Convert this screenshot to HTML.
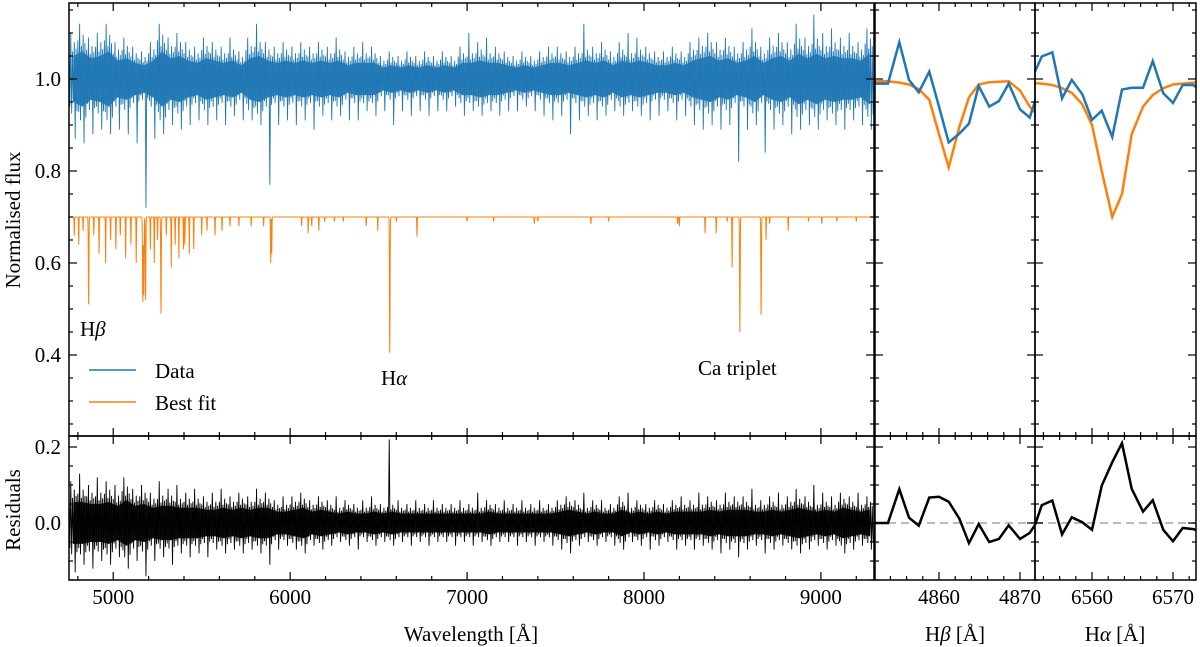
<!DOCTYPE html>
<html><head><meta charset="utf-8"><style>
html,body{margin:0;padding:0;background:#fff;}
svg{display:block;}
text{font-family:"Liberation Serif",serif;}
</style></head><body>
<svg id="chart" width="1200" height="647" viewBox="0 0 1200 647" font-family="Liberation Serif, serif" xmlns="http://www.w3.org/2000/svg">
<defs>
<clipPath id="cMain"><rect x="69" y="3" width="805" height="433"/></clipPath>
<clipPath id="cRes"><rect x="69" y="436" width="805" height="144"/></clipPath>
<clipPath id="cHb"><rect x="875" y="3" width="160" height="433"/></clipPath>
<clipPath id="cHbR"><rect x="875" y="436" width="160" height="144"/></clipPath>
<clipPath id="cHa"><rect x="1035" y="3" width="161" height="433"/></clipPath>
<clipPath id="cHaR"><rect x="1035" y="436" width="161" height="144"/></clipPath>
</defs>
<g id="marks"></g>
<g id="axes"></g>
<text x="20" y="220" font-size="21" text-anchor="middle" transform="rotate(-90 20 220)">Normalised flux</text>
<text x="20" y="510" font-size="21" text-anchor="middle" transform="rotate(-90 20 510)">Residuals</text>
<text x="471" y="641" font-size="21" text-anchor="middle">Wavelength [Å]</text>
<text x="955" y="641" font-size="21" text-anchor="middle">H<tspan font-style="italic">β</tspan> [Å]</text>
<text x="1115" y="641" font-size="21" text-anchor="middle">H<tspan font-style="italic">α</tspan> [Å]</text>
<text x="80" y="336" font-size="21">H<tspan font-style="italic">β</tspan></text>
<text x="381" y="385" font-size="21">H<tspan font-style="italic">α</tspan></text>
<text x="698" y="375" font-size="21">Ca triplet</text>
<g>
<line x1="89" y1="370" x2="136" y2="370" stroke="#1f77b4" stroke-width="1.5"/>
<text x="155" y="378" font-size="21">Data</text>
<line x1="89" y1="402" x2="136" y2="402" stroke="#ff7f0e" stroke-width="1.5"/>
<text x="155" y="410" font-size="21">Best fit</text>
</g>
</svg>
<script>
// ---------- data ----------
const binStart = 4750, binWidth = 50;
const dataHi = [1.10,1.12,1.09,1.10,1.12,1.08,1.09,1.07,1.06,1.08,1.12,1.09,1.10,1.08,1.07,1.09,1.08,1.07,1.09,1.06,1.09,1.12,1.08,1.07,1.08,1.07,1.08,1.07,1.08,1.07,1.09,1.06,1.07,1.08,1.07,1.05,1.06,1.05,1.06,1.05,1.06,1.05,1.06,1.05,1.07,1.10,1.08,1.09,1.07,1.06,1.05,1.06,1.05,1.06,1.07,1.07,1.06,1.07,1.12,1.07,1.08,1.06,1.08,1.10,1.09,1.07,1.06,1.06,1.07,1.06,1.08,1.09,1.10,1.08,1.09,1.07,1.08,1.11,1.07,1.09,1.10,1.08,1.12,1.09,1.14,1.10,1.11,1.09,1.10,1.08,1.11];
const dataLo = [0.87,0.86,0.88,0.89,0.88,0.89,0.88,0.86,0.72,0.87,0.88,0.90,0.89,0.90,0.91,0.90,0.91,0.90,0.92,0.91,0.91,0.90,0.77,0.90,0.91,0.90,0.91,0.89,0.92,0.91,0.92,0.91,0.91,0.93,0.92,0.93,0.90,0.93,0.92,0.93,0.92,0.93,0.93,0.94,0.92,0.93,0.92,0.93,0.92,0.93,0.93,0.94,0.93,0.92,0.91,0.92,0.88,0.91,0.92,0.91,0.92,0.93,0.92,0.93,0.92,0.91,0.92,0.93,0.91,0.92,0.90,0.89,0.90,0.89,0.90,0.82,0.89,0.90,0.84,0.89,0.90,0.88,0.89,0.90,0.89,0.91,0.90,0.89,0.91,0.90,0.89];
const resHi = [0.11,0.13,0.10,0.12,0.11,0.10,0.12,0.09,0.10,0.08,0.11,0.09,0.10,0.08,0.09,0.07,0.08,0.09,0.07,0.08,0.07,0.09,0.08,0.06,0.07,0.07,0.08,0.06,0.07,0.06,0.07,0.06,0.05,0.06,0.07,0.05,0.22,0.06,0.05,0.06,0.05,0.06,0.05,0.05,0.06,0.05,0.08,0.06,0.05,0.06,0.05,0.06,0.05,0.06,0.05,0.06,0.07,0.06,0.08,0.06,0.06,0.05,0.07,0.08,0.06,0.05,0.06,0.05,0.06,0.07,0.06,0.08,0.07,0.06,0.08,0.07,0.07,0.09,0.06,0.07,0.08,0.07,0.09,0.07,0.10,0.08,0.07,0.08,0.07,0.08,0.07];
const resLo = [-0.13,-0.11,-0.12,-0.10,-0.11,-0.09,-0.12,-0.10,-0.14,-0.10,-0.09,-0.11,-0.08,-0.09,-0.08,-0.09,-0.07,-0.08,-0.07,-0.08,-0.07,-0.08,-0.11,-0.07,-0.06,-0.07,-0.08,-0.06,-0.07,-0.06,-0.05,-0.06,-0.07,-0.05,-0.06,-0.05,-0.06,-0.05,-0.06,-0.05,-0.06,-0.05,-0.05,-0.06,-0.05,-0.06,-0.05,-0.06,-0.05,-0.05,-0.06,-0.05,-0.06,-0.05,-0.06,-0.07,-0.08,-0.06,-0.05,-0.06,-0.05,-0.06,-0.07,-0.05,-0.06,-0.07,-0.06,-0.05,-0.07,-0.06,-0.07,-0.06,-0.07,-0.08,-0.07,-0.09,-0.07,-0.06,-0.08,-0.07,-0.06,-0.07,-0.08,-0.07,-0.06,-0.07,-0.06,-0.08,-0.07,-0.06,-0.07];
const modelContinuum = 0.70;
const lineCenters = [4780,4805,4830,4861,4890,4920,4957,4985,5015,5040,5070,5100,5130,5167,5173,5183,5210,5232,5250,5270,5300,5328,5350,5371,5397,5405,5430,5455,5500,5530,5575,5615,5660,5710,5780,5850,5890,5896,6065,6102,6122,6162,6195,6250,6300,6430,6495,6563,6600,6717,7000,7150,7380,7400,7700,7800,8190,8200,8345,8408,8470,8498,8542,8662,8690,8710,8815,8930,9005,9090,9200];
const lineMins = [0.66,0.64,0.67,0.51,0.66,0.62,0.60,0.65,0.63,0.66,0.61,0.64,0.60,0.515,0.53,0.52,0.63,0.60,0.65,0.49,0.66,0.59,0.64,0.61,0.63,0.64,0.62,0.63,0.66,0.67,0.66,0.67,0.68,0.68,0.68,0.68,0.60,0.62,0.68,0.665,0.68,0.67,0.69,0.69,0.69,0.68,0.67,0.405,0.69,0.657,0.69,0.69,0.685,0.69,0.685,0.69,0.685,0.68,0.665,0.665,0.69,0.59,0.45,0.487,0.65,0.685,0.67,0.69,0.685,0.69,0.69];
const hbWave = [4852.1,4853.7,4855.1,4856.3,4857.5,4858.8,4860.0,4861.2,4862.5,4863.7,4864.9,4866.2,4867.4,4868.6,4870.0,4871.2,4872.0];
const hbData = [0.99,0.99,1.08,0.998,0.971,1.016,0.94,0.862,0.881,0.903,0.985,0.94,0.952,0.99,0.934,0.916,0.96];
const hbModel = [0.995,0.995,0.992,0.988,0.978,0.955,0.88,0.808,0.895,0.96,0.988,0.993,0.994,0.995,0.975,0.94,0.925];
const hbRes = [0,0,0.089,0.014,-0.007,0.067,0.069,0.056,0.012,-0.053,-0.003,-0.05,-0.042,-0.006,-0.042,-0.026,0];
const haWave = [6552.96,6553.8,6555.1,6556.3,6557.5,6558.8,6560.0,6561.2,6562.5,6563.7,6564.9,6566.3,6567.5,6568.8,6570.0,6571.2,6572.5,6573.0];
const haData = [1.016,1.049,1.058,0.958,0.998,0.967,0.911,0.931,0.874,0.977,0.981,0.981,1.039,0.969,0.948,0.987,0.987,0.98];
const haModel = [0.991,0.99,0.987,0.98,0.97,0.945,0.9,0.8,0.7,0.75,0.88,0.94,0.965,0.98,0.988,0.99,0.992,0.993];
const haRes = [-0.005,0.047,0.059,-0.03,0.015,0.002,-0.018,0.098,0.16,0.21,0.09,0.03,0.06,-0.018,-0.048,-0.013,-0.016,-0.02];
const mainXTicks = [5000,6000,7000,8000,9000];
const hbXTicks = [4860,4870];
const haXTicks = [6560,6570];
const fluxYTicks = [0.4,0.6,0.8,1.0];
const resYTicks = [0.0,0.2];

// ---------- panels ----------
const NS = "http://www.w3.org/2000/svg";
const P = {
  main:{x0:69,x1:874,y0:3,y1:436,xmin:4750,xmax:9300,ymin:0.2239,ymax:1.1652},
  res:{x0:69,x1:874,y0:436,y1:580,xmin:4750,xmax:9300,ymin:-0.15,ymax:0.229},
  hb:{x0:875,x1:1035,y0:3,y1:436,xmin:4852.1,xmax:4871.85,ymin:0.2239,ymax:1.1652},
  hbr:{x0:875,x1:1035,y0:436,y1:580,xmin:4852.1,xmax:4871.85,ymin:-0.15,ymax:0.229},
  ha:{x0:1035,x1:1196,y0:3,y1:436,xmin:6552.96,xmax:6572.84,ymin:0.2239,ymax:1.1652},
  har:{x0:1035,x1:1196,y0:436,y1:580,xmin:6552.96,xmax:6572.84,ymin:-0.15,ymax:0.229}
};
function sx(p,v){return p.x0+(v-p.xmin)/(p.xmax-p.xmin)*(p.x1-p.x0);}
function sy(p,v){return p.y1-(v-p.ymin)/(p.ymax-p.ymin)*(p.y1-p.y0);}
const marks=document.getElementById('marks'), axes=document.getElementById('axes');
function mk(tag,attrs,parent){const e=document.createElementNS(NS,tag);for(const k in attrs)e.setAttribute(k,attrs[k]);parent.appendChild(e);return e;}
function path(p,xs,ys,stroke,w,clip,name){
  let d='';for(let i=0;i<xs.length;i++){d+=(i?'L':'M')+sx(p,xs[i]).toFixed(2)+' '+sy(p,ys[i]).toFixed(2);}
  const e=mk('path',{d:d,fill:'none',stroke:stroke,'stroke-width':w,'stroke-linejoin':'miter','clip-path':'url(#'+clip+')'},marks);
  
  
  return e;
}
// drawing style for a noisy series: spikes reach the bin envelope once per side per bin
const spikeStyle = [0.7,-0.6,1.0,-0.75,0.6,-0.5,0.8,-1.0,0.65,-0.7];
function noisy(p,hi,lo,center,color,clip,name){
  const n=Math.min(hi.length,lo.length);
  const xs=[],ys=[],cx=[],cyh=[],cyl=[];
  for(let i=0;i<n;i++){
    const w=binStart+i*binWidth;
    const up=hi[i]-center, dn=center-lo[i];
    const base=Math.min(up,dn);
    for(let k=0;k<spikeStyle.length;k++){
      const f=spikeStyle[k];
      xs.push(w+k*binWidth/spikeStyle.length);
      let v;
      if(f===1.0) v=hi[i]; else if(f===-1.0) v=lo[i]; else v=center+f*base;
      ys.push(v);
    }
    cx.push(w+binWidth/2);cyh.push(center+base*0.5);cyl.push(center-base*0.5);
  }
  let d='';
  for(let i=0;i<cx.length;i++)d+=(i?'L':'M')+sx(p,cx[i]).toFixed(1)+' '+sy(p,cyh[i]).toFixed(1);
  for(let i=cx.length-1;i>=0;i--)d+='L'+sx(p,cx[i]).toFixed(1)+' '+sy(p,cyl[i]).toFixed(1);
  const band=mk('path',{d:d+'Z',fill:color,'fill-opacity':0.9,'clip-path':'url(#'+clip+')'},marks);
  
  
  path(p,xs,ys,color,0.9,clip,name);
}
noisy(P.main,dataHi,dataLo,1.0,'#1f77b4','cMain','data-spectrum');
noisy(P.res,resHi,resLo,0.0,'#000','cRes','residual-spectrum');
// model spectrum
{
  const mx=[],my=[];
  for(let w=4750;w<=9300;w+=1){
    let v=modelContinuum;
    for(let j=0;j<lineCenters.length;j++){
      const dd=w-lineCenters[j];
      if(Math.abs(dd)<8){const s=(lineMins[j]<0.55)?1.6:1.1;v-=(modelContinuum-lineMins[j])*Math.exp(-dd*dd/(2*s*s));}
    }
    mx.push(w);my.push(v);
  }
  path(P.main,mx,my,'#ff7f0e',1,'cMain','best-fit-spectrum');
}
// zoom panels
path(P.hb,hbWave,hbModel,'#ff7f0e',2.5,'cHb','hbeta-best-fit');
path(P.hb,hbWave,hbData,'#1f77b4',2.5,'cHb','hbeta-data');
path(P.ha,haWave,haModel,'#ff7f0e',2.5,'cHa','halpha-best-fit');
path(P.ha,haWave,haData,'#1f77b4',2.5,'cHa','halpha-data');
[['hbr','cHbR','hbeta'],['har','cHaR','halpha']].forEach(([k,c,n])=>{
  const p=P[k];
  const z=mk('line',{x1:p.x0,x2:p.x1,y1:sy(p,0),y2:sy(p,0),stroke:'#bbb','stroke-width':2,'stroke-dasharray':'8,5'},marks);
  
  
});
path(P.hbr,hbWave,hbRes,'#000',2.5,'cHbR','hbeta-residuals');
path(P.har,haWave,haRes,'#000',2.5,'cHaR','halpha-residuals');

// ---------- axes ----------
const SERIF='Liberation Serif, serif';
function ticksX(p,major,minorStep,labels,showLabels){
  const start=Math.ceil(p.xmin/minorStep)*minorStep;
  for(let v=start;v<=p.xmax+1e-9;v+=minorStep){
    const isMaj=major.some(m=>Math.abs(m-v)<1e-6);const L=isMaj?8:4;const x=sx(p,v);
    mk('line',{x1:x,x2:x,y1:p.y1,y2:p.y1-L,stroke:'#000','stroke-width':1.2},axes);
    mk('line',{x1:x,x2:x,y1:p.y0,y2:p.y0+L,stroke:'#000','stroke-width':1.2},axes);
  }
  if(showLabels)labels.forEach(v=>{
    const t=mk('text',{x:sx(p,v),y:604,'font-size':21,'text-anchor':'middle','font-family':SERIF},axes);t.textContent=String(v);
    
    
  });
}
function ticksY(p,major,minorStep){
  const start=Math.ceil((p.ymin-1e-9)/minorStep)*minorStep;
  for(let v=start;v<=p.ymax+1e-9;v+=minorStep){
    const isMaj=major.some(m=>Math.abs(m-v)<1e-6);const L=isMaj?8:4;const y=sy(p,v);
    mk('line',{x1:p.x0,x2:p.x0+L,y1:y,y2:y,stroke:'#000','stroke-width':1.2},axes);
    mk('line',{x1:p.x1,x2:p.x1-L,y1:y,y2:y,stroke:'#000','stroke-width':1.2},axes);
  }
}
const fluxMaj=[0.2,0.4,0.6,0.8,1.0],resMaj=[-0.2,0.0,0.2];
ticksX(P.main,mainXTicks,200,mainXTicks,false);ticksX(P.res,mainXTicks,200,mainXTicks,true);
ticksX(P.hb,hbXTicks,2,hbXTicks,false);ticksX(P.hbr,hbXTicks,2,hbXTicks,true);
ticksX(P.ha,haXTicks,2,haXTicks,false);ticksX(P.har,haXTicks,2,haXTicks,true);
ticksY(P.main,fluxMaj,0.05);ticksY(P.res,resMaj,0.05);
ticksY(P.hb,fluxMaj,0.05);ticksY(P.hbr,resMaj,0.05);
ticksY(P.ha,fluxMaj,0.05);ticksY(P.har,resMaj,0.05);
fluxYTicks.forEach(v=>{const t=mk('text',{x:61,y:sy(P.main,v)+7,'font-size':21,'text-anchor':'end','font-family':SERIF},axes);t.textContent=v.toFixed(1);
  
  });
resYTicks.forEach(v=>{const t=mk('text',{x:61,y:sy(P.res,v)+7,'font-size':21,'text-anchor':'end','font-family':SERIF},axes);t.textContent=v.toFixed(1);
  
  });
for(const k in P){const p=P[k];
  const r=mk('rect',{x:p.x0,y:p.y0,width:p.x1-p.x0,height:p.y1-p.y0,fill:'none',stroke:'#000','stroke-width':1.5},axes);
  
  
}
</script>
</body></html>
